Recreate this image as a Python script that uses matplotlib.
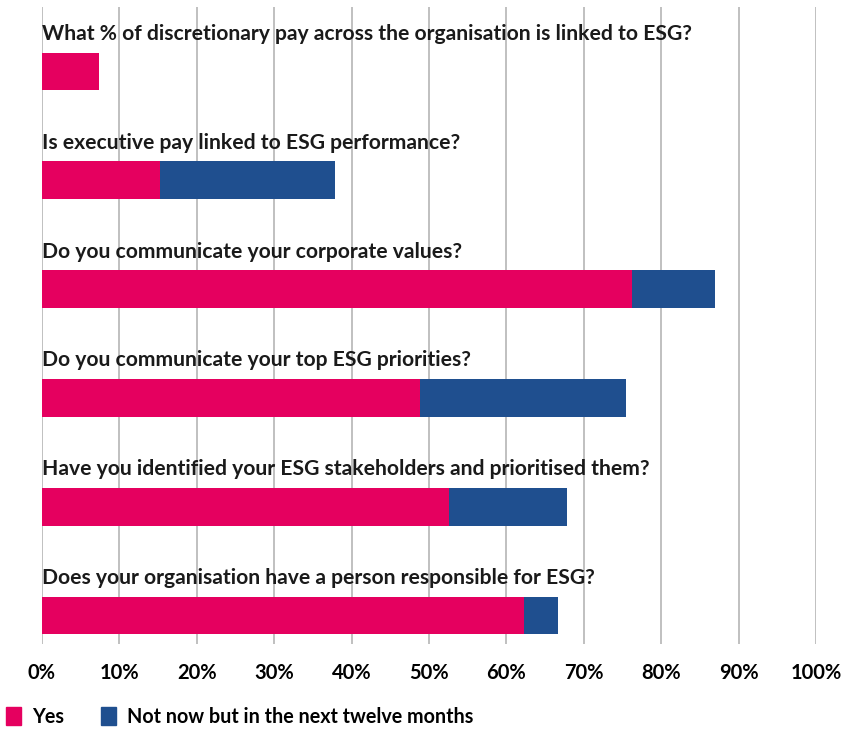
import numpy as np
import matplotlib.pyplot as plt
from matplotlib.patches import Patch

# Datos
preguntas = [
    'What % of discretionary pay across the organisation is linked to ESG?',
    'Is executive pay linked to ESG performance?',
    'Do you communicate your corporate values?',
    'Do you communicate your top ESG priorities?',
    'Have you identified your ESG stakeholders and prioritised them?',
    'Does your organisation have a person responsible for ESG?',
]
si = [7.4, 15.2, 76.2, 48.8, 52.6, 62.3]
proximos_meses = [0, 22.6, 10.8, 26.7, 15.2, 4.4]
ticks = [0, 10, 20, 30, 40, 50, 60, 70, 80, 90, 100]

rosa = '#E5005F'
azul = '#1F4F8F'

plt.rcParams['font.family'] = ['Lato', 'DejaVu Sans']

fig = plt.figure(figsize=(8.43, 7.29), dpi=100)
ax = fig.add_axes([42 / 843, 1 - 644 / 729, 774 / 843, 637 / 729])

y = np.arange(len(preguntas))
alto = 0.347
ax.barh(y, si, height=alto, color=rosa, zorder=3)
ax.barh(y, proximos_meses, left=si, height=alto, color=azul, zorder=3)

# Preguntas encima de cada barra
for i, texto in enumerate(preguntas):
    ax.text(0, i - 0.345, texto, fontsize=15.2, fontweight='bold',
            va='center', ha='left', color='#1a1a1a', zorder=4)

ax.set_xlim(0, 100)
ax.set_ylim(5.262, -0.593)
ax.set_xticks(ticks)
ax.set_xticklabels([f'{t}%' for t in ticks], fontsize=14.5, fontweight='bold')
ax.set_yticks([])
ax.tick_params(axis='x', length=0, pad=14)
ax.grid(axis='x', color='#BBBBBB', linewidth=1.3, zorder=0)
for s in ax.spines.values():
    s.set_visible(False)

handles = [Patch(color=rosa, label='Yes'),
           Patch(color=azul, label='Not now but in the next twelve months')]
fig.legend(handles=handles, loc='lower left', bbox_to_anchor=(6 / 843, 2 / 729),
           ncol=2, frameon=False, handlelength=0.75, handleheight=1.0,
           handletextpad=0.55, columnspacing=1.9, borderpad=0, borderaxespad=0,
           prop={'family': ['Lato', 'DejaVu Sans'], 'weight': 'bold', 'size': 14.2})

fig.savefig('out.png', dpi=100)
